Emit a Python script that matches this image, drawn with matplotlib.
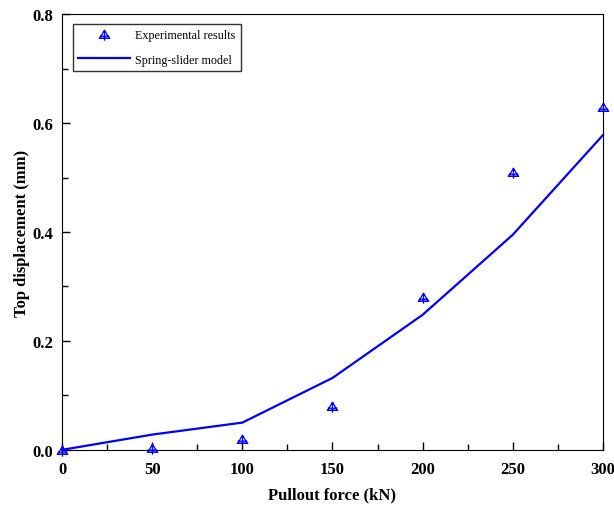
import numpy as np
import matplotlib.pyplot as plt
from matplotlib.path import Path

plt.rcParams['font.family'] = ['Liberation Serif', 'DejaVu Serif']

# Pullout force (kN)
force = [0, 50, 100, 150, 200, 250, 300]

# Top displacement (mm)
exp_disp = [0.0, 0.004, 0.02, 0.08, 0.28, 0.51, 0.63]
model_disp = [0.0, 0.028, 0.05, 0.132, 0.248, 0.395, 0.578]

# triangle with a cross through it
verts = [(-1, -0.8), (0, 0.9), (1, -0.8), (-1, -0.8),
         (-1.2, -0.8), (1.2, -0.8),
         (0, 0.9), (0, -1.3),
         (-1, -0.35), (1, -0.35)]
codes = [Path.MOVETO, Path.LINETO, Path.LINETO, Path.CLOSEPOLY,
         Path.MOVETO, Path.LINETO,
         Path.MOVETO, Path.LINETO,
         Path.MOVETO, Path.LINETO]
tri_cross = Path(verts, codes)

fig, ax = plt.subplots(figsize=(6.14, 5.06), dpi=100)
fig.subplots_adjust(left=0.101, right=0.982, top=0.970, bottom=0.109)

ax.plot(force, exp_disp, linestyle='none', marker=tri_cross, markersize=9,
        markerfacecolor='none', markeredgecolor='blue', markeredgewidth=0.9,
        label='Experimental results', clip_on=False, zorder=3)
ax.plot(force, model_disp, color='blue', linewidth=1.6, label='Spring-slider model',
        clip_on=False)

ax.set_xlim(0, 300)
ax.set_ylim(0, 0.8)
ax.set_xticks([0, 50, 100, 150, 200, 250, 300])
ax.set_xticks(np.arange(25, 300, 50), minor=True)
ax.set_yticks([0.0, 0.2, 0.4, 0.6, 0.8])
ax.set_yticks([0.1, 0.3, 0.5, 0.7], minor=True)
ax.set_yticklabels(['0.0', '0.2', '0.4', '0.6', '0.8'])

ax.tick_params(which='both', direction='in', top=False, right=False, labelsize=12)
ax.tick_params(which='major', length=6, width=1)
ax.tick_params(which='minor', length=4, width=1)
ax.tick_params(axis='x', which='major', pad=8)
ax.tick_params(axis='y', which='major', pad=6.5)
for lab in ax.get_xticklabels() + ax.get_yticklabels():
    lab.set_fontweight('bold')

ax.set_xlabel('Pullout force (kN)', fontsize=12, fontweight='bold', labelpad=7)
ax.set_ylabel('Top displacement (mm)', fontsize=12, fontweight='bold', labelpad=1.5)

leg = ax.legend(loc='upper left', bbox_to_anchor=(0.015, 0.983), fontsize=8.7,
                frameon=True, fancybox=False, edgecolor='black',
                handlelength=4.3, handletextpad=0.4, borderpad=0.45,
                borderaxespad=0.2, labelspacing=1.0)
leg.get_frame().set_linewidth(1.0)

plt.savefig('out.png', dpi=100)
